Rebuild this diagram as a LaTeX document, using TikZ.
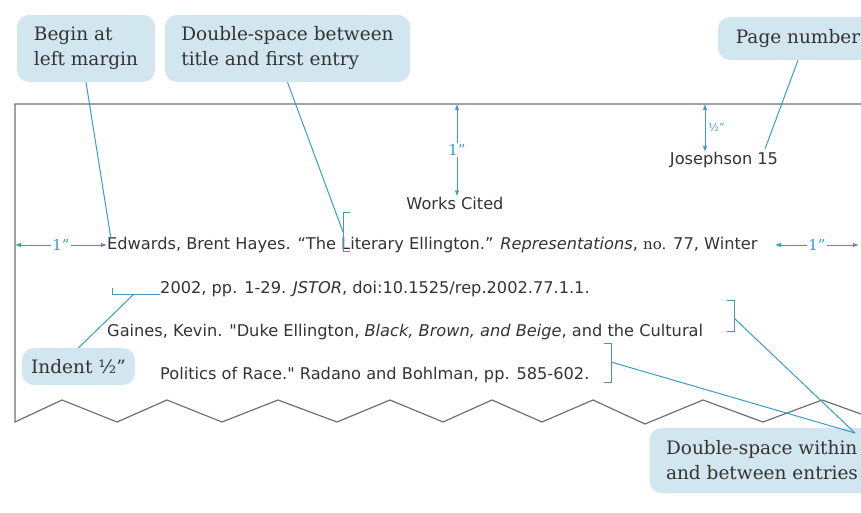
\documentclass[tikz,border=0pt]{standalone}
\usepackage{fontspec}
\setmainfont{DejaVu Serif}
\newfontfamily\pagefont{DejaVu Sans}
\usetikzlibrary{positioning,calc,arrows.meta}
\definecolor{guide}{HTML}{3A9CC4}
\definecolor{boxfill}{HTML}{D2E6F0}
\definecolor{ink}{HTML}{333333}
\definecolor{rule}{HTML}{707070}

\begin{document}
\begin{tikzpicture}[x=1pt,y=-1pt,
  callout/.style={fill=boxfill,rounded corners=12pt,text=ink,align=left,inner sep=0pt,font=\fontsize{18.5}{25}\selectfont},
  entry/.style={inner sep=0pt,text=ink,font=\pagefont\fontsize{16.2}{18}\selectfont},
  guideline/.style={guide,line width=1pt},
  dim/.style={guide,line width=0.9pt,{Latex[length=6pt,width=4.5pt]}-{Latex[length=6pt,width=4.5pt]}},
  dimlabel/.style={fill=white,inner sep=1.5pt,text=guide,font=\fontsize{15}{15}\selectfont},
  bracket/.style={guide!70!gray,line width=0.9pt}]
\useasboundingbox (0,0) rectangle (861,513);
\node[callout,minimum width=138pt,minimum height=67pt] (leftbox) at (86,48.5) {Begin at\\left margin};
\node[callout,minimum width=245pt,minimum height=67pt] (gapbox) at (287.5,48.5) {Double-space between\\title and first entry};
\node[callout,minimum width=160pt,minimum height=43pt] (pagebox) at (798,38.5) {Page number};
\node[callout,minimum width=113pt,minimum height=37pt] (indentbox) at (78.5,366.5) {Indent ½”};
\node[callout,minimum width=225pt,minimum height=65pt] (withinbox) at (762,460.5) {Double-space within\\and between entries};
\draw[rule,line width=1.2pt] (861,104) -- (15,104) -- (15,422) -- (62,400) -- (117,422) -- (167,400) -- (222,422) -- (278,400) -- (337,422) -- (390,400) -- (443,422) -- (492,400) -- (542,422) -- (593,400) -- (645,424) -- (703,400) -- (763,422) -- (822,400) -- (861,414);
\node[entry] (runhead) at (724,160) {Josephson 15};
\node[entry] (title) at (455,203) {Works Cited};
\node[entry,anchor=west] (first) at (107,245) {Edwards, Brent Hayes. “The Literary Ellington.” \textit{Representations}, {\rmfamily\fontsize{15}{15}\selectfont no.} 77, Winter};
\node[entry,anchor=west] (firstcont) at (160,289) {2002, pp. 1-29. \textit{JSTOR}, doi:10.1525/rep.2002.77.1.1.};
\node[entry,anchor=west] (second) at (107,332) {Gaines, Kevin. "Duke Ellington, \textit{Black, Brown, and Beige}, and the Cultural};
\node[entry,anchor=west] (secondcont) at (160,375) {Politics of Race." Radano and Bohlman, pp. 585-602.};
\coordinate (leftedge) at (15,245);
\coordinate (rightmargin) at (775,245);
\coordinate (rightedge) at (859,245);
\coordinate (topedge) at (457,104);
\coordinate (headedge) at (705,104);
\draw[dim] (leftedge) -- node[dimlabel] {1”} (first.west);
\draw[dim] (rightmargin) -- node[dimlabel] {1”} (rightedge);
\draw[dim] (topedge) -- node[dimlabel] {1”} (topedge |- title.north);
\draw[dim] (headedge) -- node[right=3pt,text=guide,inner sep=0pt,font=\fontsize{11}{11}\selectfont] {½”} (headedge |- runhead.north);
\draw[bracket] (350,212) -- (343,212) -- (343,251) -- (350,251);
\draw[bracket] (112,288) -- (112,294) -- (160,294);
\draw[bracket] (727,300) -- (734,300) -- (734,331) -- (727,331);
\draw[bracket] (604,343) -- (611,343) -- (611,382) -- (604,382);
\coordinate (leftmark) at (111,239);
\coordinate (gapmark) at (343,232);
\coordinate (pagemark) at (765,149);
\coordinate (indentmark) at (134,294);
\coordinate (withinmark) at (734,318);
\coordinate (betweenmark) at (611,362);
\coordinate (withintip) at (855,433);
\draw[guideline] (leftbox.south) -- (leftmark);
\draw[guideline] (gapbox.south) -- (gapmark);
\draw[guideline] (pagebox.south) -- (pagemark);
\draw[guideline] (indentmark) -- (indentbox.north);
\draw[guideline] (withinmark) -- (withintip);
\draw[guideline] (betweenmark) -- (withintip);
\end{tikzpicture}
\end{document}
